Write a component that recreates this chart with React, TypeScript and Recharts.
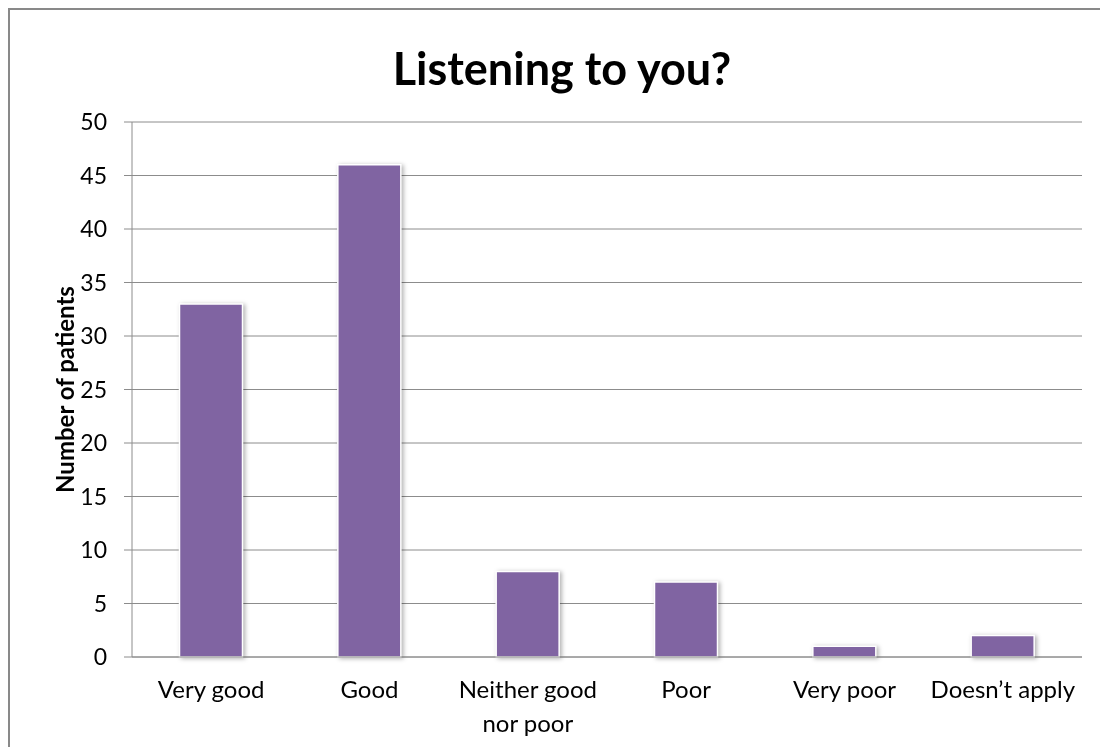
import { BarChart, Bar, XAxis, YAxis, CartesianGrid, Label } from "recharts";

const categories = ["Very good", "Good", "Neither good nor poor", "Poor", "Very poor", "Doesn\u2019t apply"];
const patients = [33, 46, 8, 7, 1, 2];
const yTicks = [0, 5, 10, 15, 20, 25, 30, 35, 40, 45, 50];

const chartData = categories.map((name, i) => ({ name, value: patients[i] }));

const FONT = "Lato, 'Open Sans', sans-serif";

// splits long category names over two lines like the original
function CategoryTick(props: any) {
  const { x, y, payload } = props;
  const words: string[] = String(payload.value).split(" ");
  const lines: string[] = [];
  let cur = "";
  words.forEach((w) => {
    const next = cur ? cur + " " + w : w;
    if (next.length > 13 && cur) {
      lines.push(cur);
      cur = w;
    } else {
      cur = next;
    }
  });
  if (cur) lines.push(cur);
  return (
    <text x={x} y={y} textAnchor="middle" fill="#000" fontSize={24} fontFamily={FONT}>
      {lines.map((l, i) => (
        <tspan key={i} x={x} dy={i === 0 ? 33 : 34}>
          {l}
        </tspan>
      ))}
    </text>
  );
}

export default function App() {
  return (
    <div
      style={{
        position: "fixed",
        left: 8,
        top: 8,
        width: 1300,
        height: 900,
        borderTop: "2px solid #898989",
        borderLeft: "2px solid #898989",
        boxSizing: "border-box",
        fontFamily: FONT,
        overflow: "hidden",
      }}
    >
      <div
        style={{
          position: "absolute",
          left: 0,
          width: 1104,
          top: 31,
          textAlign: "center",
          fontSize: 45,
          fontWeight: 700,
          color: "#000",
          lineHeight: 1.2,
        }}
      >
        Listening to you?
      </div>
      <div style={{ position: "absolute", left: -2, top: -2 }}>
        <BarChart
          width={1092}
          height={739}
          data={chartData}
          margin={{ top: 114, right: 18, bottom: 30, left: 64 }}
          barCategoryGap="30%"
        >
          <CartesianGrid vertical={false} stroke="#8c8c8c" />
          <XAxis
            dataKey="name"
            interval={0}
            height={60}
            tickLine={false}
            axisLine={{ stroke: "#8c8c8c" }}
            tick={<CategoryTick />}
          />
          <YAxis
            width={60}
            domain={[0, 50]}
            ticks={yTicks}
            interval={0}
            tickSize={8}
            tickMargin={17}
            axisLine={{ stroke: "#8c8c8c" }}
            tickLine={{ stroke: "#8c8c8c" }}
            tick={{ fill: "#000", fontSize: 23, fontFamily: FONT }}
          >
            <Label
              value="Number of patients"
              angle={-90}
              position="center"
              dx={-37}
              style={{ fontSize: 24, fontWeight: 700, fill: "#000", fontFamily: FONT }}
            />
          </YAxis>
          <Bar
            dataKey="value"
            fill="#8064A2"
            stroke="#ffffff"
            strokeWidth={1.5}
            isAnimationActive={false}
            style={{ filter: "drop-shadow(2px 1px 2px rgba(0,0,0,0.3))" }}
          />
        </BarChart>
      </div>
    </div>
  );
}
